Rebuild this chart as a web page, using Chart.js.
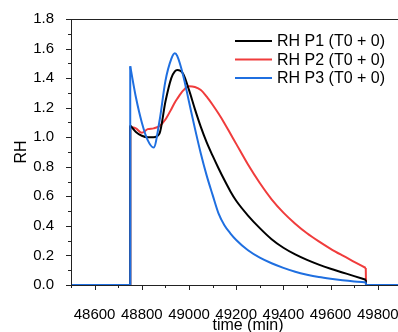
<!DOCTYPE html>
<html><head><meta charset="utf-8">
<script src="https://cdn.jsdelivr.net/npm/chart.js@4/dist/chart.umd.min.js"></script>
<style>html,body{margin:0;padding:0;background:#fff;overflow:hidden;width:398px;height:332px}canvas{display:block}</style>
</head><body>
<canvas id="c" width="440" height="340"></canvas>
<script>
// time grid of the measured curve (min)
const timeMin = [48751,48775,48800,48825,48850,48875,48900,48925,48940,48950,48975,49000,49025,49050,49075,49100,49125,49150,49175,49200,49250,49300,49350,49400,49450,49500,49550,49600,49650,49700,49749];
const rhP1 = [1.08,1.035,1.01,1.0,1.0,1.025,1.24,1.40,1.445,1.455,1.43,1.32,1.19,1.07,0.965,0.875,0.79,0.71,0.635,0.57,0.47,0.385,0.31,0.252,0.207,0.17,0.138,0.11,0.085,0.06,0.036];
const rhP2 = [1.07,1.06,1.03,1.055,1.06,1.075,1.12,1.19,1.235,1.26,1.315,1.345,1.34,1.32,1.275,1.22,1.16,1.095,1.025,0.955,0.815,0.69,0.58,0.49,0.415,0.35,0.295,0.245,0.20,0.157,0.115];
const rhP3 = [1.48,1.27,1.10,0.98,0.93,1.11,1.38,1.53,1.568,1.55,1.42,1.24,1.06,0.89,0.74,0.61,0.485,0.405,0.35,0.305,0.235,0.185,0.147,0.116,0.09,0.07,0.054,0.042,0.032,0.024,0.018];
// baseline (RH = 0) outside the measurement window
const baseStart = [48500,48750];
const baseEnd = [49750,50000];
const seriesLabels = ['RH P1 (T0 + 0)','RH P2 (T0 + 0)','RH P3 (T0 + 0)'];
const seriesColors = ['#000000','#f03c3c','#1f6fe0'];
const xTickLabels = [48600,48800,49000,49200,49400,49600,49800];
const yTickLabels = [0.0,0.2,0.4,0.6,0.8,1.0,1.2,1.4,1.6,1.8];

const FONT = '"Liberation Sans", Arial, sans-serif';
const series = [rhP1, rhP2, rhP3];
const orders = [1, 2, 0];
const datasets = [];
series.forEach((ys, i) => {
  datasets.push({label:seriesLabels[i], data:timeMin.map((t,k)=>({x:t,y:ys[k]})),
    borderColor:seriesColors[i], borderWidth:2, pointRadius:0, cubicInterpolationMode:'monotone', clip:4, order:orders[i]});
  const last = ys.length-1;
  datasets.push({label:'', data:[
      {x:baseStart[0],y:0},{x:baseStart[1],y:0},{x:timeMin[0],y:ys[0]},
      {x:timeMin[0]+1,y:null},
      {x:timeMin[last],y:ys[last]},{x:baseEnd[0],y:0},{x:baseEnd[1],y:0}],
    borderColor:seriesColors[i], borderWidth:2, pointRadius:0, tension:0, spanGaps:false, clip:4, order:orders[i]});
});

const framePlugin = {
  id:'frame',
  afterDraw(chart){
    const {ctx, chartArea:a, scales} = chart;
    ctx.save();
    ctx.strokeStyle = '#222';
    ctx.lineWidth = 1;
    ctx.strokeRect(Math.round(a.left)+0.5, Math.round(a.top)+0.5, Math.round(a.right-a.left), Math.round(a.bottom-a.top));
    ctx.beginPath();
    const xs = scales.x, ys = scales.y;
    for (let v=48500; v<=50000; v+=100){
      const px = Math.round(xs.getPixelForValue(v))+0.5;
      const major = xTickLabels.includes(v);
      ctx.moveTo(px, a.bottom); ctx.lineTo(px, a.bottom + (major?5:3));
    }
    for (let k=0; k<=18; k++){
      const py = Math.round(ys.getPixelForValue(k/10))+0.5;
      const major = k%2===0;
      ctx.moveTo(a.left, py); ctx.lineTo(a.left - (major?5:3), py);
    }
    ctx.stroke();
    ctx.font = '16px '+FONT;
    ctx.textBaseline = 'middle';
    ctx.fillStyle = '#000';
    seriesLabels.forEach((lab,i)=>{
      const y = 41 + i*18.5;
      ctx.strokeStyle = seriesColors[i]; ctx.lineWidth = 2;
      ctx.beginPath(); ctx.moveTo(235,y); ctx.lineTo(272,y); ctx.stroke();
      ctx.fillText(lab, 277, y+1);
    });
    ctx.restore();
  }
};

new Chart(document.getElementById('c'), {
  type:'line',
  data:{datasets},
  options:{
    responsive:false, animation:false,
    layout:{padding:{top:19,right:15,left:0,bottom:0}},
    plugins:{legend:{display:false}, tooltip:{enabled:false}},
    scales:{
      x:{type:'linear', min:48500, max:50000,
        afterBuildTicks(s){ s.ticks = xTickLabels.map(v=>({value:v})); },
        afterFit(s){ s.height = 55; },
        grid:{display:false}, border:{display:false},
        ticks:{color:'#000', font:{family:FONT,size:15}, padding:13, maxRotation:0, autoSkip:false, callback:v=>String(v)},
        title:{display:true, text:'time (min)', color:'#000', font:{family:FONT,size:16}, padding:{top:0,bottom:5}}
      },
      y:{min:0, max:1.8,
        afterBuildTicks(s){ s.ticks = yTickLabels.map(v=>({value:v})); },
        afterFit(s){ s.width = 71; },
        grid:{display:false}, border:{display:false},
        ticks:{color:'#000', font:{family:FONT,size:15}, padding:9, callback:v=>Number(v).toFixed(1)},
        title:{display:true, text:'RH', color:'#000', font:{family:FONT,size:16}, padding:{top:12,bottom:0}}
      }
    }
  },
  plugins:[framePlugin]
});
</script>
</body></html>
